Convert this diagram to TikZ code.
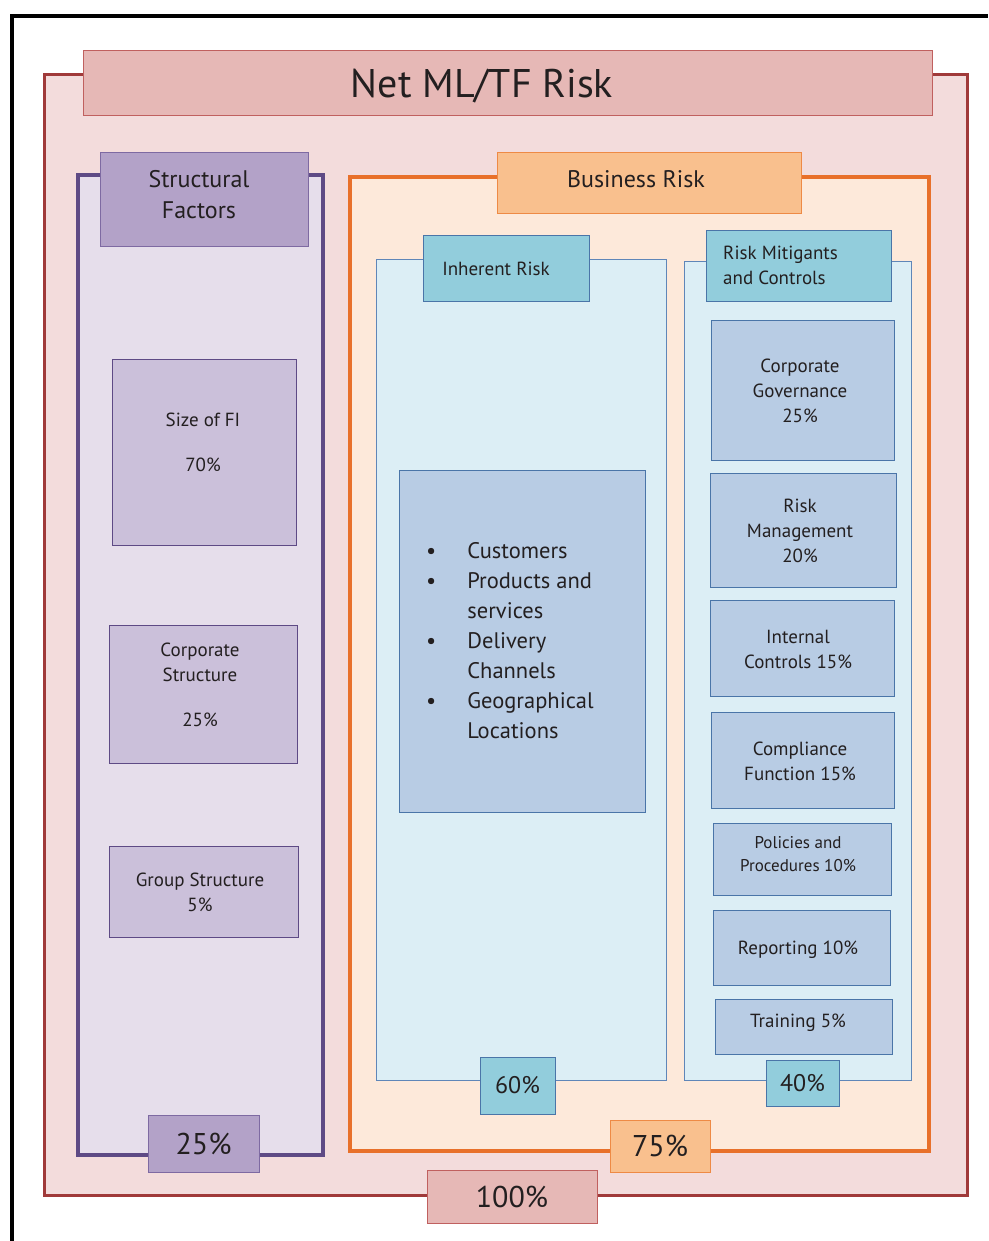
\documentclass[tikz,border=0pt]{standalone}
\usepackage{fontspec}
\setmainfont{PT Sans}
\usetikzlibrary{positioning}

\definecolor{txt}{HTML}{231F20}
\definecolor{netline}{HTML}{A03A3A}
\definecolor{netfill}{HTML}{F3DCDC}
\definecolor{netheadfill}{HTML}{E6B8B6}
\definecolor{netheadline}{HTML}{C0605F}
\definecolor{structline}{HTML}{5E4A85}
\definecolor{structfill}{HTML}{E6DEEB}
\definecolor{structheadfill}{HTML}{B3A2C8}
\definecolor{structheadline}{HTML}{7E6AA2}
\definecolor{structboxfill}{HTML}{CBC0DA}
\definecolor{busline}{HTML}{E8702A}
\definecolor{busfill}{HTML}{FDE9DA}
\definecolor{busheadfill}{HTML}{F9C08E}
\definecolor{busheadline}{HTML}{EE8A45}
\definecolor{panelfill}{HTML}{DCEEF5}
\definecolor{panelline}{HTML}{5F86B8}
\definecolor{blueheadfill}{HTML}{92CDDC}
\definecolor{blueline}{HTML}{4A75A8}
\definecolor{itemfill}{HTML}{B8CCE4}

\begin{document}
\begin{tikzpicture}[x=1pt, y=-1pt, every node/.style={text=txt, align=center, inner sep=0pt}]
    \tikzstyle{netbox}=[draw=netline, fill=netfill, line width=3pt]
    \tikzstyle{nethead}=[draw=netheadline, fill=netheadfill, line width=1pt]
    \tikzstyle{structbox}=[draw=structline, fill=structfill, line width=4pt]
    \tikzstyle{structhead}=[draw=structheadline, fill=structheadfill, line width=1pt]
    \tikzstyle{structitem}=[draw=structline, fill=structboxfill, line width=1pt]
    \tikzstyle{busbox}=[draw=busline, fill=busfill, line width=4pt]
    \tikzstyle{bushead}=[draw=busheadline, fill=busheadfill, line width=1pt]
    \tikzstyle{panel}=[draw=panelline, fill=panelfill, line width=1pt]
    \tikzstyle{bluehead}=[draw=blueline, fill=blueheadfill, line width=1pt]
    \tikzstyle{item}=[draw=blueline, fill=itemfill, line width=1pt]
    \tikzstyle{small}=[font=\fontsize{19}{25}\selectfont]
    \tikzstyle{big}=[font=\fontsize{30}{36}\selectfont]
    \tikzstyle{mid}=[font=\fontsize{24}{28}\selectfont]

    \useasboundingbox (0,0) rectangle (988,1241);
    \fill[white] (0,0) rectangle (988,1241);
    \draw[line width=4pt] (11.5,1241) -- (11.5,16) -- (988,16);

    % outer frame
    \node[netbox, minimum width=923, minimum height=1120] (net) at (505.5,635) {};
    \node[nethead, minimum width=849, minimum height=65] (title) at (507.5,83.5) {};
    \node (titletxt) at (482,86) [font=\fontsize{40}{48}\selectfont] {Net ML/TF Risk};

    % structural factors
    \node[structbox, minimum width=245, minimum height=980] (struct) at (200.5,665) {};
    \node[structhead, minimum width=208, minimum height=94] (structhd) at (204,200) {};
    \node (structtxt) at (199,195) [font=\fontsize{24}{31}\selectfont] {Structural\\Factors};
    \node[structitem, minimum width=184, minimum height=186] (size) at (204,452) {};
    \node[small] (sizetxt) at (203,442) {Size of FI\\[20pt]70\%};
    \node[structitem, minimum width=188, minimum height=138] (corp) at (203,694) {};
    \node[small] (corptxt) at (200,685) {Corporate\\Structure\\[20pt]25\%};
    \node[structitem, minimum width=189, minimum height=91] (group) at (203.5,891.5) {};
    \node[small] (grouptxt) at (200,892) {Group Structure\\5\%};
    \node[structhead, minimum width=111, minimum height=57, big] (p25) at (203.5,1143.5) {25\%};

    % business risk
    \node[busbox, minimum width=579, minimum height=974] (bus) at (639.5,664) {};
    \node[bushead, minimum width=304, minimum height=61] (bushd) at (649,183.5) {};
    \node (bustxt) at (636,179) [font=\fontsize{24}{31}\selectfont] {Business Risk};

    % inherent risk
    \node[panel, minimum width=290, minimum height=821] (inh) at (521,669.5) {};
    \node[bluehead, minimum width=166, minimum height=65] (inhhd) at (506,268.5) {};
    \node[small] (inhtxt) at (496,269) {Inherent Risk};
    \node[item, minimum width=246, minimum height=342] (list) at (522,641) {};
    \node[anchor=west, font=\fontsize{22.5}{30}\selectfont, align=left] (listtxt) at (426,642)
        {\begin{tabular}{@{}l@{\hspace{31pt}}l@{}}
         \textbullet & Customers\\
         \textbullet & Products and\\
                     & services\\
         \textbullet & Delivery\\
                     & Channels\\
         \textbullet & Geographical\\
                     & Locations
         \end{tabular}};
    \node[bluehead, minimum width=75, minimum height=57, mid] (p60) at (517.5,1085.5) {60\%};

    % risk mitigants
    \node[panel, minimum width=227, minimum height=819] (mit) at (797.5,670.5) {};
    \node[bluehead, minimum width=185, minimum height=70] (mithd) at (798.5,266) {};
    \node[small, anchor=west, align=left] (mittxt) at (723,265) {Risk Mitigants\\and Controls};
    \node[item, minimum width=183, minimum height=140] (gov) at (802.5,390) {};
    \node[small] (govtxt) at (800,391) {Corporate\\Governance\\25\%};
    \node[item, minimum width=186, minimum height=114] (riskm) at (803,530) {};
    \node[small] (riskmtxt) at (800,531) {Risk\\Management\\20\%};
    \node[item, minimum width=184, minimum height=96] (intc) at (802,648) {};
    \node[small] (intctxt) at (798,649) {Internal\\Controls 15\%};
    \node[item, minimum width=183, minimum height=96] (comp) at (802.5,760) {};
    \node[small] (comptxt) at (800,761) {Compliance\\Function 15\%};
    \node[item, minimum width=178, minimum height=72] (pol) at (802,859) {};
    \node (poltxt) at (798,854.5) [font=\fontsize{17}{23}\selectfont] {Policies and\\Procedures 10\%};
    \node[item, minimum width=177, minimum height=75] (rep) at (801.5,947.5) {};
    \node[small] (reptxt) at (798,950) {Reporting 10\%};
    \node[item, minimum width=177, minimum height=55] (train) at (803.5,1026.5) {};
    \node[small] (traintxt) at (798,1023) {Training 5\%};
    \node[bluehead, minimum width=73, minimum height=46, mid] (p40) at (802.5,1083) {40\%};

    % totals
    \node[bushead, minimum width=100, minimum height=52, big] (p75) at (660,1146) {75\%};
    \node[nethead, minimum width=170, minimum height=53, big] (p100) at (512,1196.5) {100\%};
\end{tikzpicture}
\end{document}
